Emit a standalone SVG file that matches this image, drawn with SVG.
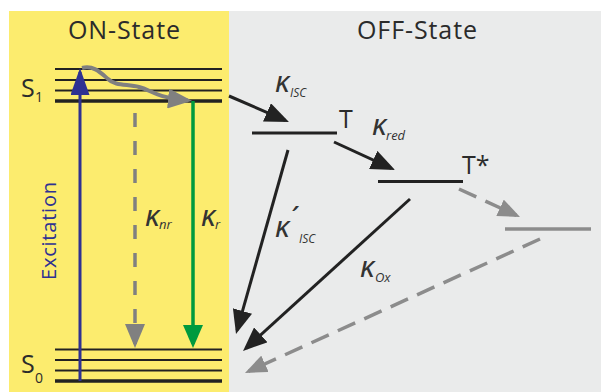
<svg xmlns="http://www.w3.org/2000/svg" width="601" height="392" viewBox="0 0 601 392">
<style>
.lvl{stroke:#222;stroke-width:2.2;fill:none}
.lvlb{stroke:#222;stroke-width:3.4;fill:none}
.title{font-family:"Open Sans","Noto Sans",sans-serif;font-size:25px;fill:#2b2b2b}
.st{font-family:"Open Sans","Noto Sans",sans-serif;fill:#2b2b2b}
.k{font-family:"Noto Sans",sans-serif;font-style:italic;font-size:30px;fill:#333}
.sub{font-family:"Open Sans","Noto Sans",sans-serif;font-style:italic;fill:#333}
.blk{stroke:#222;stroke-width:3;fill:none;marker-end:url(#hb)}
.gd{stroke:#8c8c8c;stroke-width:3.5;fill:none;stroke-dasharray:19 10}
</style>
<defs>
<marker id="hb" markerUnits="userSpaceOnUse" markerWidth="24" markerHeight="20" refX="20" refY="10" orient="auto"><path d="M0,0 L24,10 L0,20 z" fill="#222"/></marker>
<marker id="hblue" markerUnits="userSpaceOnUse" markerWidth="27" markerHeight="19" refX="23" refY="9.5" orient="auto"><path d="M0,0 L27,9.5 L0,19 z" fill="#2e3192"/></marker>
<marker id="hgreen" markerUnits="userSpaceOnUse" markerWidth="23" markerHeight="20" refX="19" refY="10" orient="auto"><path d="M0,0 L23,10 L0,20 z" fill="#009a3e"/></marker>
<marker id="hgray" markerUnits="userSpaceOnUse" markerWidth="24" markerHeight="20" refX="20" refY="10" orient="auto"><path d="M0,0 L24,10 L0,20 z" fill="#808080"/></marker>
<marker id="hgs" markerUnits="userSpaceOnUse" markerWidth="22" markerHeight="18" refX="18" refY="9" orient="auto"><path d="M0,0 L22,9 L0,18 z" fill="#8c8c8c"/></marker>
</defs>
<rect x="0" y="0" width="601" height="392" fill="#fff"/>
<rect x="9" y="11" width="220" height="381" fill="#fcec6e"/>
<rect x="229" y="11" width="372" height="381" fill="#eaebeb"/>
<text class="title" x="124" y="39" text-anchor="middle" textLength="112" lengthAdjust="spacing">ON-State</text>
<text class="title" x="417" y="39" text-anchor="middle" textLength="120" lengthAdjust="spacing">OFF-State</text>

<g id="S1">
<line class="lvl" x1="55" y1="69" x2="222" y2="69"/>
<line class="lvl" x1="55" y1="80" x2="222" y2="80"/>
<line class="lvl" x1="55" y1="90.5" x2="222" y2="90.5"/>
<line class="lvlb" x1="55" y1="101" x2="222" y2="101"/>
<text class="st" font-size="25" x="21" y="97">S</text><text class="st" font-size="14" x="35" y="102">1</text>
</g>
<g id="S0">
<line class="lvl" x1="55" y1="349.5" x2="222" y2="349.5"/>
<line class="lvl" x1="55" y1="360" x2="222" y2="360"/>
<line class="lvl" x1="55" y1="370.5" x2="222" y2="370.5"/>
<line class="lvlb" x1="55" y1="381" x2="222" y2="381"/>
<text class="st" font-size="25" x="21" y="373">S</text><text class="st" font-size="14" x="35" y="383">0</text>
</g>
<g id="T">
<line x1="252" y1="133" x2="337" y2="133" stroke="#222" stroke-width="3"/>
<text class="st" font-size="25" x="339" y="128">T</text>
</g>
<g id="Tstar">
<line x1="378" y1="181.5" x2="463" y2="181.5" stroke="#222" stroke-width="3"/>
<text class="st" font-size="25" x="462" y="174">T*</text>
</g>
<g id="Lower">
<line x1="505" y1="229" x2="591" y2="229" stroke="#8c8c8c" stroke-width="3.5"/>
</g>

<g id="connectors">
<line x1="80" y1="381" x2="80" y2="72" stroke="#2e3192" stroke-width="3" marker-end="url(#hblue)"/>
<path d="M82,68 C94,65 101,73 108,79 C115,86 127,84 139,87 C152,90 153,97 188,100.4" stroke="#808080" stroke-width="4" fill="none" marker-end="url(#hgray)"/>
<line x1="135" y1="101" x2="135" y2="344" stroke="#808080" stroke-width="3.5" stroke-dasharray="14 14" stroke-dashoffset="16" marker-end="url(#hgray)"/>
<line x1="193" y1="101" x2="193" y2="344" stroke="#009a3e" stroke-width="3.5" marker-end="url(#hgreen)"/>
<line class="blk" x1="229" y1="96" x2="285.3" y2="120.4"/>
<line class="blk" x1="334" y1="142" x2="391.4" y2="168.3"/>
<line class="blk" x1="288" y1="150" x2="237.1" y2="330.2"/>
<line class="blk" x1="410" y1="199" x2="246" y2="348.3"/>
<line class="gd" x1="459" y1="189" x2="516.4" y2="215.3" stroke-dasharray="16 12" marker-end="url(#hgs)"/>
<line class="gd" x1="540" y1="239" x2="248.6" y2="371.3" marker-end="url(#hgs)"/>
</g>

<g id="labels">
<text class="st" font-size="20" style="fill:#2e3192" transform="translate(56,231) rotate(-90)" text-anchor="middle" textLength="98" lengthAdjust="spacing">Excitation</text>
<text class="k" x="145" y="226">κ</text><text class="sub" font-size="13" x="159" y="229">nr</text>
<text class="k" x="201" y="226">κ</text><text class="sub" font-size="13" x="215" y="229">r</text>
<text class="k" x="275" y="92">κ</text><text class="sub" font-size="12" x="290" y="97">ISC</text>
<text class="k" x="372" y="135">κ</text><text class="sub" font-size="13" x="386" y="140">red</text>
<text class="k" x="275" y="237">κ</text><text class="k" font-size="18" x="289" y="230">´</text><text class="sub" font-size="12" x="299" y="243">ISC</text>
<text class="k" x="360" y="277">κ</text><text class="sub" font-size="13" x="375" y="282">Ox</text>
</g>
</svg>
